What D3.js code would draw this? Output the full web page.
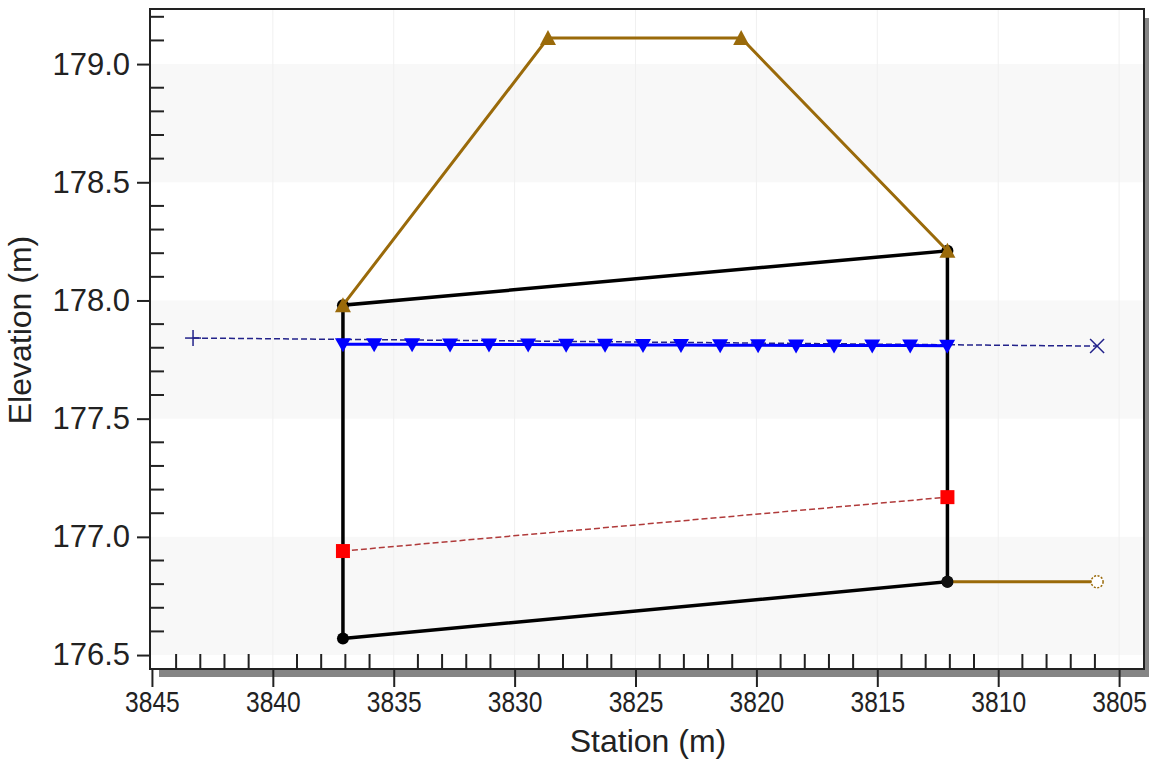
<!DOCTYPE html>
<html><head><meta charset="utf-8">
<script src="https://cdn.jsdelivr.net/npm/d3@7"></script>
<style>body{margin:0;background:#fff}svg{display:block}text{font-family:"Liberation Sans",Arial,sans-serif;fill:#222}</style>
</head><body>
<script>
// ---- data ----
const xDomain = [3845.08, 3803.97];
const yDomain = [176.441, 179.233];
const xMajorTicks = [3845, 3840, 3835, 3830, 3825, 3820, 3815, 3810, 3805];
const yMajorTicks = [176.5, 177.0, 177.5, 178.0, 178.5, 179.0];
const bandRanges = [[178.5, 179.0], [177.5, 178.0], [176.5, 177.0]];

const bridgeStations = [3837.1, 3837.1, 3812.1, 3812.1, 3837.1];
const bridgeElev = [176.57, 177.98, 178.21, 176.81, 176.57];

const roadStations = [3837.1, 3828.62, 3820.63, 3812.1];
const roadElev = [177.98, 179.11, 179.11, 178.21];

const groundStations = [3812.1, 3805.91];
const groundElev = [176.81, 176.81];

const wsStations = [3837.10, 3835.81, 3834.24, 3832.67, 3831.06, 3829.44, 3827.87, 3826.26, 3824.69, 3823.12, 3821.50, 3819.93, 3818.36, 3816.79, 3815.21, 3813.64, 3812.11];
const wsElev = [177.815, 177.815, 177.815, 177.814, 177.814, 177.814, 177.813, 177.813, 177.812, 177.812, 177.811, 177.811, 177.810, 177.810, 177.809, 177.809, 177.808];

const egStations = [3843.30, 3805.91];
const egElev = [177.841, 177.807];

const redStations = [3837.1, 3812.1];
const redElev = [176.94, 177.168];

// ---- layout ----
const W = 1149, H = 762;
const L = 150, R = 1144, T = 9, B = 669;
const svg = d3.select("body").append("svg").attr("width", W).attr("height", H);
const x = d3.scaleLinear().domain(xDomain).range([L, R]);
const y = d3.scaleLinear().domain(yDomain).range([B, T]);
const zip = (a, b) => a.map((v, i) => [v, b[i]]);
const line = d3.line().x(d => x(d[0])).y(d => y(d[1]));
const brown = "#9a6a0a";

// shadow
svg.append("rect").attr("x", 159).attr("y", B).attr("width", W - 159).attr("height", 8).attr("fill", "#858585");
svg.append("rect").attr("x", R).attr("y", 18).attr("width", W - R).attr("height", B - 10).attr("fill", "#858585");

// background bands
svg.append("rect").attr("x", L).attr("y", T).attr("width", R - L).attr("height", B - T).attr("fill", "#fff");
svg.selectAll(".band").data(bandRanges).enter().append("rect")
  .attr("x", L).attr("width", R - L)
  .attr("y", d => y(d[1])).attr("height", d => y(d[0]) - y(d[1]))
  .attr("fill", "#f8f8f8");
// vertical gridlines
svg.selectAll(".vg").data(xMajorTicks.slice(1)).enter().append("line")
  .attr("x1", d => x(d)).attr("x2", d => x(d)).attr("y1", T).attr("y2", B)
  .attr("stroke", "#f0f0f0").attr("stroke-width", 1);

// energy grade dashed
const eg = zip(egStations, egElev);
svg.append("path").attr("d", line(eg)).attr("fill", "none")
  .attr("stroke", "#22228a").attr("stroke-width", 1.5).attr("stroke-dasharray", "6,3");
const pm = svg.append("g").attr("transform", `translate(${x(eg[0][0])},${y(eg[0][1])})`).attr("stroke", "#22228a").attr("stroke-width", 1.5);
pm.append("line").attr("x1", -8).attr("x2", 8).attr("y1", 0).attr("y2", 0);
pm.append("line").attr("x1", 0).attr("x2", 0).attr("y1", -8).attr("y2", 8);
const xm = svg.append("g").attr("transform", `translate(${x(eg[1][0])},${y(eg[1][1])})`).attr("stroke", "#22228a").attr("stroke-width", 1.5);
xm.append("line").attr("x1", -7).attr("x2", 7).attr("y1", -7).attr("y2", 7);
xm.append("line").attr("x1", -7).attr("x2", 7).attr("y1", 7).attr("y2", -7);

// red dashed
const rd = zip(redStations, redElev);
svg.append("path").attr("d", line(rd)).attr("fill", "none")
  .attr("stroke", "#b03a3a").attr("stroke-width", 1.5).attr("stroke-dasharray", "6,3");

// bridge (black)
const br = zip(bridgeStations, bridgeElev);
svg.append("path").attr("d", line(br)).attr("fill", "none").attr("stroke", "#000").attr("stroke-width", 3.5);
svg.selectAll(".bd").data(br.slice(0, 4)).enter().append("circle")
  .attr("cx", d => x(d[0])).attr("cy", d => y(d[1])).attr("r", 6).attr("fill", "#000");

// ground (brown, lower)
const gr = zip(groundStations, groundElev);
svg.append("path").attr("d", line(gr)).attr("fill", "none").attr("stroke", brown).attr("stroke-width", 3);
svg.append("circle").attr("cx", x(gr[1][0])).attr("cy", y(gr[1][1])).attr("r", 6)
  .attr("fill", "#fff").attr("stroke", brown).attr("stroke-width", 1.5).attr("stroke-dasharray", "2,1.5");
svg.append("circle").attr("cx", x(gr[0][0])).attr("cy", y(gr[0][1])).attr("r", 6).attr("fill", "#111");

// water surface (blue)
const ws = zip(wsStations, wsElev);
svg.append("path").attr("d", line(ws)).attr("fill", "none").attr("stroke", "#0000ff").attr("stroke-width", 3);
svg.selectAll(".wsm").data(ws).enter().append("path")
  .attr("d", "M-8,-6 L8,-6 L0,8 Z")
  .attr("transform", d => `translate(${x(d[0])},${y(d[1])})`).attr("fill", "#0000ff");

// red squares
svg.selectAll(".rs").data(rd).enter().append("rect")
  .attr("x", d => x(d[0]) - 7).attr("y", d => y(d[1]) - 7).attr("width", 14).attr("height", 14).attr("fill", "#ff0000");

// road (brown triangles)
const rdw = zip(roadStations, roadElev);
svg.append("path").attr("d", line(rdw)).attr("fill", "none").attr("stroke", brown).attr("stroke-width", 3);
svg.selectAll(".tri").data(rdw).enter().append("path")
  .attr("d", "M-8,7 L8,7 L0,-8 Z")
  .attr("transform", d => `translate(${x(d[0])},${y(d[1])})`).attr("fill", brown);

// frame
svg.append("rect").attr("x", L).attr("y", T).attr("width", R - L).attr("height", B - T)
  .attr("fill", "none").attr("stroke", "#222").attr("stroke-width", 2);

// y axis
const yMinor = d3.range(176.5, 179.25, 0.1).filter(v => yMajorTicks.every(m => Math.abs(m - v) > 1e-6) && v <= yDomain[1]);
svg.selectAll(".ymin").data(yMinor).enter().append("line")
  .attr("x1", L).attr("x2", L + 14).attr("y1", d => y(d)).attr("y2", d => y(d)).attr("stroke", "#222").attr("stroke-width", 2);
const yAxis = d3.axisLeft(y).tickValues(yMajorTicks).tickFormat(d3.format(".1f")).tickSize(13).tickPadding(7);
const yg = svg.append("g").attr("transform", `translate(${L},0)`).call(yAxis);
yg.select(".domain").remove();
yg.selectAll(".tick line").attr("stroke", "#222").attr("stroke-width", 2);
yg.selectAll(".tick text").attr("font-size", 31).attr("fill", "#222").attr("font-family", "Liberation Sans, Arial, sans-serif");

// x axis
const xMinor = d3.range(3805, 3846, 1).filter(v => v % 5 !== 0);
svg.selectAll(".xmin").data(xMinor).enter().append("line")
  .attr("y1", B).attr("y2", B - 15).attr("x1", d => x(d)).attr("x2", d => x(d)).attr("stroke", "#222").attr("stroke-width", 2);
const xAxis = d3.axisBottom(x).tickValues(xMajorTicks).tickFormat(d3.format("d")).tickSize(18).tickPadding(4);
const xg = svg.append("g").attr("transform", `translate(0,${B})`).call(xAxis);
xg.select(".domain").remove();
xg.selectAll(".tick line").attr("stroke", "#222").attr("stroke-width", 2);
xg.selectAll(".tick text").attr("font-size", 30).attr("fill", "#222").attr("font-family", "Liberation Sans, Arial, sans-serif")
  .attr("transform", "scale(0.82,1)");

// titles
svg.append("text").attr("x", 648).attr("y", 752).attr("text-anchor", "middle").attr("font-size", 32).text("Station (m)");
svg.append("text").attr("transform", "translate(31,330) rotate(-90)").attr("text-anchor", "middle").attr("font-size", 32).text("Elevation (m)");
</script>
</body></html>
